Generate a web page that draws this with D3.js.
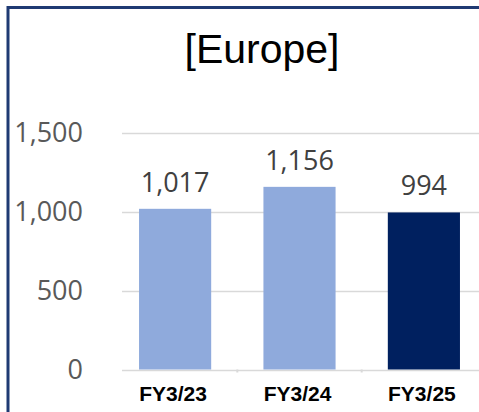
<!DOCTYPE html>
<html>
<head>
<meta charset="utf-8">
<script src="https://cdn.jsdelivr.net/npm/d3@7"></script>
<style>
  body { margin: 0; background: #fff; }
  svg { display: block; }
</style>
</head>
<body>
<script>
// Europe segment, three fiscal years
var categories = ["FY3/23", "FY3/24", "FY3/25"];
var values = [1017, 1156, 994];
var yTicks = [0, 500, 1000, 1500];
var title = "[Europe]";

var width = 479, height = 412;

var svg = d3.select("body").append("svg")
    .attr("width", width)
    .attr("height", height);

// frame (only top and left edges show in the crop)
svg.append("path")
    .attr("d", "M8," + height + "V7.5H" + width)
    .attr("fill", "none")
    .attr("stroke", "#1f3a73")
    .attr("stroke-width", 3);

var x = d3.scaleBand()
    .domain(categories)
    .range([122, 477])
    .paddingInner(0.42)
    .paddingOuter(0.137);

var y = d3.scaleLinear()
    .domain([0, 1500])
    .range([369.5, 132.5]);

svg.append("text")
    .attr("x", 262)
    .attr("y", 63)
    .attr("text-anchor", "middle")
    .attr("font-family", "'Liberation Sans', Arial, sans-serif")
    .attr("font-size", 41)
    .attr("fill", "#000")
    .text(title);

// gridlines
svg.selectAll("line.grid")
    .data(yTicks)
    .enter().append("line")
    .attr("class", "grid")
    .attr("x1", 122)
    .attr("x2", width)
    .attr("y1", function(d) { return Math.round(y(d)) + 0.5; })
    .attr("y2", function(d) { return Math.round(y(d)) + 0.5; })
    .attr("stroke", "#d9d9d9")
    .attr("stroke-width", 1.5);

// y axis labels
var yAxis = d3.axisLeft(y)
    .tickValues(yTicks)
    .tickSize(0)
    .tickPadding(0)
    .tickFormat(d3.format(","));

var gy = svg.append("g")
    .attr("transform", "translate(83,0)")
    .call(yAxis);
gy.select(".domain").remove();
gy.selectAll("text")
    .attr("font-family", "'Open Sans', Lato, sans-serif")
    .attr("font-size", 27)
    .attr("fill", "#595959");

// small ticks between categories
var bounds = [categories[0], categories[1]];
svg.selectAll("line.cat-tick")
    .data(bounds)
    .enter().append("line")
    .attr("class", "cat-tick")
    .attr("x1", function(d) { return x(d) + x.step() - (x.step() - x.bandwidth()) / 2; })
    .attr("x2", function(d) { return x(d) + x.step() - (x.step() - x.bandwidth()) / 2; })
    .attr("y1", y(0))
    .attr("y2", y(0) + 3)
    .attr("stroke", "#d9d9d9")
    .attr("stroke-width", 2);

// bars
svg.selectAll("rect.bar")
    .data(values)
    .enter().append("rect")
    .attr("class", "bar")
    .attr("x", function(d, i) { return x(categories[i]); })
    .attr("y", function(d) { return y(d); })
    .attr("width", x.bandwidth())
    .attr("height", function(d) { return y(0) - y(d); })
    .attr("fill", function(d, i) {
        if (i == categories.length - 1) {
            return "#00205f";
        }
        else {
            return "#8faadc";
        }
    });

// value labels
svg.selectAll("text.val")
    .data(values)
    .enter().append("text")
    .attr("class", "val")
    .attr("x", function(d, i) { return x(categories[i]) + x.bandwidth() / 2; })
    .attr("y", function(d) { return y(d) - 17; })
    .attr("text-anchor", "middle")
    .attr("font-family", "'Open Sans', Lato, sans-serif")
    .attr("font-size", 27)
    .attr("fill", "#404040")
    .text(function(d) { return d3.format(",")(d); });

// x axis labels
var xAxis = d3.axisBottom(x)
    .tickSize(0)
    .tickPadding(0);

var gx = svg.append("g")
    .attr("transform", "translate(-2,0)")
    .call(xAxis);
gx.select(".domain").remove();
gx.selectAll("text")
    .attr("y", 401)
    .attr("dy", null)
    .attr("font-family", "'Liberation Sans', Arial, sans-serif")
    .attr("font-weight", "bold")
    .attr("font-size", 21)
    .attr("fill", "#000");
</script>
</body>
</html>
